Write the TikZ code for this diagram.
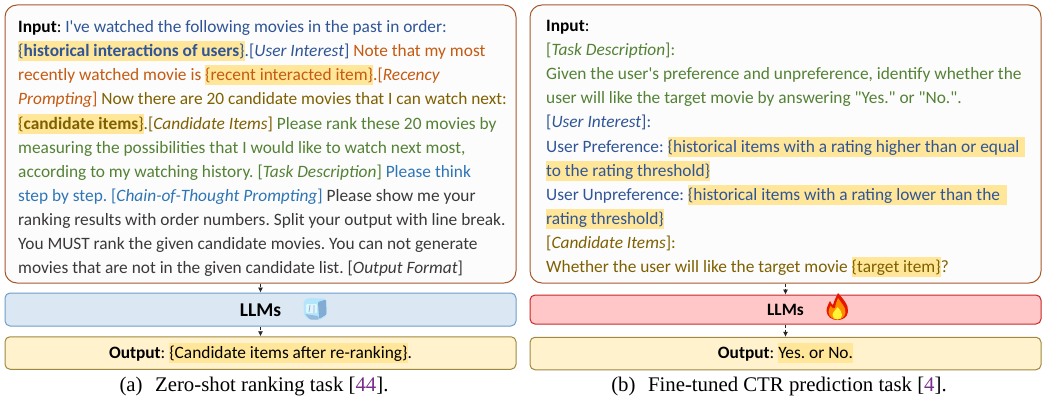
\documentclass[tikz,border=0pt]{standalone}
\usepackage{fontspec}
\setmainfont[Ligatures=TeXOff]{Carlito}
\newfontfamily\capfont{Liberation Serif}
\definecolor{cblue}{HTML}{2F5597}
\definecolor{corange}{HTML}{C55A11}
\definecolor{colive}{HTML}{7F6000}
\definecolor{cgreen}{HTML}{548235}
\definecolor{clight}{HTML}{2E75B6}
\definecolor{cgrey}{HTML}{3B3838}
\definecolor{chl}{HTML}{FFE699}
\definecolor{cbrown}{HTML}{A5582A}
\definecolor{cpurple}{HTML}{7B2D8B}
\definecolor{chlout}{HTML}{FFF2CC}
\definecolor{cpanel}{HTML}{FCFCFC}
\newcommand{\hlt}[1]{{\setlength{\fboxsep}{0pt}\colorbox{chl}{\vrule width 0pt height 15.5pt depth 4.5pt #1}}}
\usetikzlibrary{arrows.meta}
\tikzset{
  x=1pt,y=-1pt,
  tline/.style={anchor=base west,inner sep=0pt,font=\fontsize{17.35}{20}\selectfont},
  bigbox/.style={draw=cbrown,fill=cpanel,line width=1pt,rounded corners=12pt,minimum width=511pt,minimum height=278pt,inner sep=0pt},
  llmbox/.style={draw=#1,line width=1pt,rounded corners=5pt,minimum width=511pt,inner sep=0pt},
  outbox/.style={draw=colive!75,fill=chlout,line width=1pt,rounded corners=5pt,minimum width=511pt,minimum height=32.5pt,inner sep=0pt},
  midtext/.style={font=\fontsize{17.35}{20}\selectfont},
  conn/.style={-{Latex[length=5pt,width=5pt]},densely dashed,line width=.6pt,draw=black!85},
  captxt/.style={anchor=base,inner sep=0pt,font=\capfont\fontsize{20.8}{24}\selectfont}
}
\begin{document}
\frenchspacing
\begin{tikzpicture}
\useasboundingbox (0,0) rectangle (1043,401);
% left column
\node[bigbox] (inA) at (260.5,144) {};
\node[llmbox=clight!70,fill=clight!17!white,minimum height=33pt] (llmA) at (260.5,309.5) {};
\node[outbox] (outA) at (260.5,353) {};
\draw[conn] (inA.south) -- (llmA.north);
\draw[conn] (llmA.south) -- (outA.north);
\node[tline] (a1) at (18,33) {\textbf{Input}: \textcolor{cblue}{I've watched the following movies in the past in order:}};
\node[tline,text=cblue] (a2) at (18,57) {\hlt{\{\textbf{historical interactions of users}\}}.[\textit{User Interest}] \textcolor{corange}{Note that my most}};
\node[tline,text=corange] (a3) at (18,81) {recently watched movie is \hlt{\{recent interacted item\}}.[\textit{Recency}};
\node[tline,text=corange] (a4) at (18,105) {\textit{Prompting}] \textcolor{colive}{Now there are 20 candidate movies that I can watch next:}};
\node[tline,text=colive] (a5) at (18,129) {\hlt{\{\textbf{candidate items}\}}.[\textit{Candidate Items}] \textcolor{cgreen}{Please rank these 20 movies by}};
\node[tline,text=cgreen] (a6) at (18,153) {measuring the possibilities that I would like to watch next most,};
\node[tline,text=cgreen] (a7) at (18,177) {according to my watching history. [\textit{Task Description}] \textcolor{clight}{Please think}};
\node[tline,text=clight] (a8) at (18,201) {step by step. [\textit{Chain-of-Thought Prompting}] \textcolor{cgrey}{Please show me your}};
\node[tline,text=cgrey] (a9) at (18,225) {ranking results with order numbers. Split your output with line break.};
\node[tline,text=cgrey] (a10) at (18,249) {You MUST rank the given candidate movies. You can not generate};
\node[tline,text=cgrey] (a11) at (18,273) {movies that are not in the given candidate list. [\textit{Output Format}]};
\node[font=\fontsize{19.5}{22}\selectfont\bfseries,inner sep=0pt] (la) at (260.5,310) {LLMs};
\node[midtext,anchor=base,inner sep=0pt] (oa) at (260.5,358) {\textbf{Output}: \hlt{\{Candidate items after re-ranking\}}.};
\node[captxt] (capa) at (254,391) {(a)\hspace{.6em}Zero-shot ranking task [\textcolor{cpurple}{44}].};
% ice cube
\begin{scope}
\fill[cyan!30!white,rounded corners=2pt] (303.5,301) -- (307,298) -- (326,298.5) -- (327,315) -- (320,320) -- (310,320) -- (304,316) -- cycle;
\fill[clight!60!white,rounded corners=1pt] (318,302) -- (326,299.5) -- (326.5,314.5) -- (319,319) -- cycle;
\fill[cyan!12!white,rounded corners=1pt] (306,304) -- (317,304) -- (317,313) -- (306,313) -- cycle;
\draw[clight!55!white,line width=.8pt] (310,305) -- (309,312) (314,305) -- (314,313);
\fill[clight!50!white,rounded corners=1pt] (305,314) -- (318,316) -- (319,319.5) -- (310,319.5) -- cycle;
\end{scope}
% right column
\node[bigbox] (inB) at (785.5,144) {};
\node[llmbox=red!75!black!85,fill=red!22!white,minimum height=29pt] (llmB) at (785.5,309.5) {};
\node[outbox] (outB) at (785.5,353.5) {};
\draw[conn] (inB.south) -- (llmB.north);
\draw[conn] (llmB.south) -- (outB.north);
\node[tline] (b1) at (546,32) {\textbf{Input}:};
\node[tline,text=cgreen] (b2) at (546,56) {[\textit{Task Description}]:};
\node[tline,text=cgreen] (b3) at (546,80) {Given the user's preference and unpreference, identify whether the};
\node[tline,text=cgreen] (b4) at (546,104) {user will like the target movie by answering "Yes." or "No.".};
\node[tline,text=cblue] (b5) at (546,128) {[\textit{User Interest}]:};
\node[tline,text=cblue] (b6) at (546,152) {User Preference: \hlt{\{historical items with a rating higher than or equal\hspace{6pt}}};
\node[tline,text=cblue] (b7) at (546,176) {\hlt{to the rating threshold\}}};
\node[tline,text=cblue] (b8) at (546,200) {User Unpreference: \hlt{\{historical items with a rating lower than the\hspace{7pt}}};
\node[tline,text=cblue] (b9) at (546,224) {\hlt{rating threshold\}}};
\node[tline,text=colive] (b10) at (546,248) {[\textit{Candidate Items}]:};
\node[tline,text=colive] (b11) at (546,272) {Whether the user will like the target movie \hlt{\{target item\}}?};
\node[font=\fontsize{17.35}{20}\selectfont\bfseries,inner sep=0pt] (lb) at (785.5,310) {LLMs};
\node[midtext,anchor=base,inner sep=0pt] (ob) at (785.5,358) {\textbf{Output}: \hlt{Yes. or No.}};
\node[captxt] (capb) at (779,391) {(b)\hspace{.6em}Fine-tuned CTR prediction task [\textcolor{cpurple}{4}].};
% flame
\fill[red!80!orange!90!black] (838,293) .. controls (843,299) and (849,305) .. (848,312) .. controls (847,318) and (842,320) .. (837.5,320) .. controls (832,320) and (827,317) .. (826.5,311) .. controls (826.5,307) and (829,303) .. (830,301) .. controls (831,303) and (832,304.5) .. (833,305) .. controls (834,301) and (836,297) .. (838,293) -- cycle;
\fill[orange!90!yellow] (838,298) .. controls (841,303) and (846,307) .. (845.5,312.5) .. controls (845,317) and (841,319.5) .. (837.5,319.5) .. controls (833,319.5) and (829,317) .. (828.5,312) .. controls (828.5,310) and (829.5,308) .. (830.5,306) .. controls (832,308) and (833.5,309) .. (835,308) .. controls (835.5,304) and (837,301) .. (838,298) -- cycle;
\fill[yellow!80!white] (837.5,307) .. controls (840,310) and (842,312) .. (842,315) .. controls (842,318) and (840,319.5) .. (837.5,319.5) .. controls (835,319.5) and (832.5,318) .. (832.5,315) .. controls (832.5,312) and (836,310) .. (837.5,307) -- cycle;
\end{tikzpicture}
\end{document}
